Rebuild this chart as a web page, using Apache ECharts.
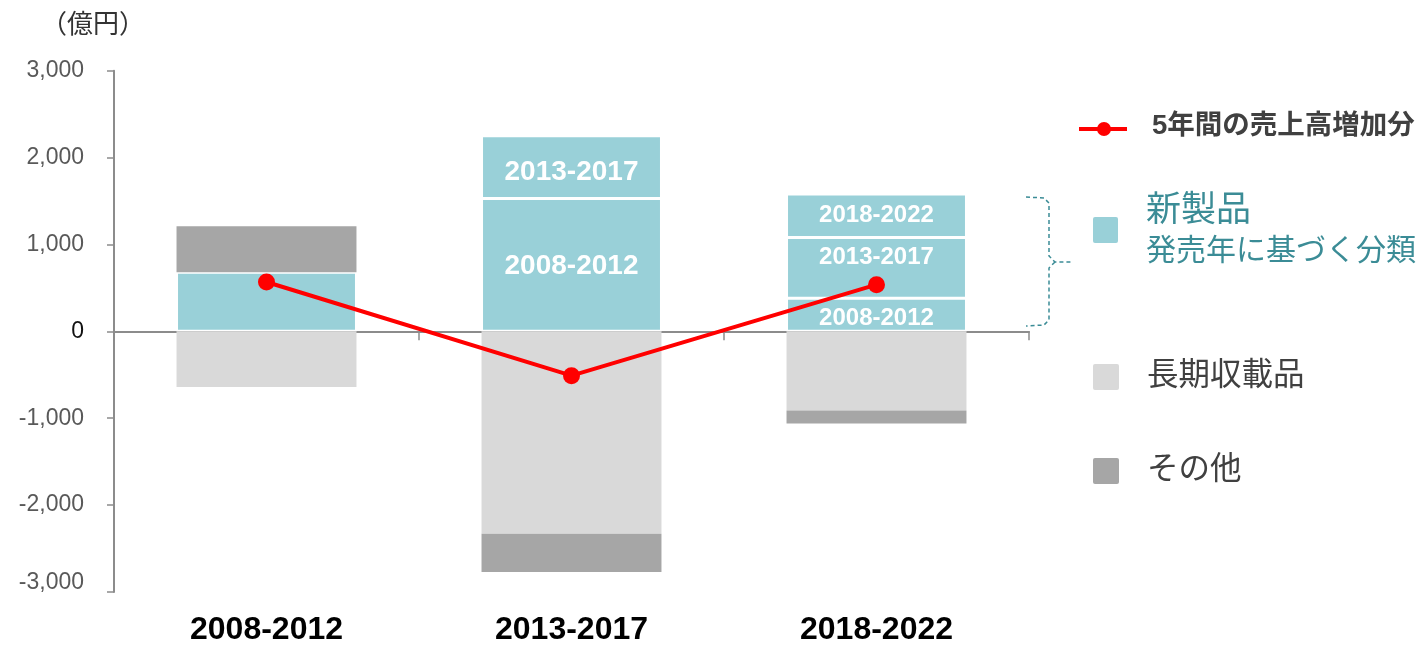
<!DOCTYPE html>
<html>
<head>
<meta charset="utf-8">
<script src="https://cdn.jsdelivr.net/npm/echarts@6/dist/echarts.min.js"></script>
<style>
	html, body { margin: 0; padding: 0; background: #fff; }
	#chart { width: 1423px; height: 646px; }
</style>
</head>
<body>
<div id="chart"></div>
<script>
// 期間（x軸）
var categories = ['2008-2012', '2013-2017', '2018-2022'];
// 新製品（発売年に基づく分類）
var cohort0812 = [680, 1530, 380];
var cohort1317 = [null, 720, 700];
var cohort1822 = [null, null, 500];
// 長期収載品・その他
var longTerm = [-640, -2330, -910];
var others = [530, -440, -150];
// 5年間の売上高増加分
var netIncrease = [568, -510, 537];
// y軸
var yTicks = [-3000, -2000, -1000, 0, 1000, 2000, 3000];

var FONT = "'Liberation Sans', Arial, 'Noto Sans CJK JP', sans-serif";
var TEAL = '#99d0d8';
var TEAL_TEXT = '#3b8c96';

// label size per bar (bar 1 has no labels)
var labelSize = [0, 28, 24];

function teal(values, name, topAlignIdx, offsets) {
	return {
		name: name,
		type: 'bar',
		stack: 'total',
		barWidth: '59%',
		itemStyle: { color: TEAL, borderColor: '#fff', borderWidth: 1.5 },
		data: values.map(function (v, i) {
			if (v === null) return null;
			return {
				value: v,
				label: {
					show: labelSize[i] > 0,
					formatter: name,
					position: i === topAlignIdx ? 'insideTop' : 'inside',
					distance: 8,
					offset: offsets ? offsets[i] : [0, 0],
					color: '#fff',
					fontWeight: 'bold',
					fontFamily: FONT,
					fontSize: labelSize[i] || 12
				}
			};
		})
	};
}

var chart = echarts.init(document.getElementById('chart'));

chart.setOption({
	animation: false,
	title: {
		text: '（億円）',
		left: 36,
		top: 8,
		textStyle: { fontSize: 26, fontWeight: 'normal', color: '#333', fontFamily: FONT }
	},
	grid: { left: 114, right: 394, top: 70.7, bottom: 53.3, containLabel: false },
	xAxis: [{
		type: 'category',
		data: categories,
		axisLine: { onZero: true, lineStyle: { color: '#8c8c8c', width: 2 } },
		axisTick: { show: true, length: 9, lineStyle: { color: '#8c8c8c', width: 1.5 } },
		axisLabel: { show: false }
	}, {
		type: 'category',
		data: categories,
		position: 'bottom',
		axisLine: { show: false },
		axisTick: { show: false },
		axisLabel: { margin: 22, fontSize: 32, fontWeight: 'bold', color: '#000', fontFamily: FONT }
	}],
	yAxis: {
		type: 'value',
		min: yTicks[0],
		max: yTicks[yTicks.length - 1],
		interval: 1000,
		splitLine: { show: false },
		axisLine: { show: true, lineStyle: { color: '#8c8c8c', width: 2 } },
		axisTick: { show: true, length: 7, lineStyle: { color: '#8c8c8c', width: 1.5 } },
		axisLabel: {
			margin: 30,
			fontSize: 23,
			color: '#595959',
			fontFamily: FONT,
			formatter: function (v) {
				if (v === 0) return '{z|0}';
				if (v === -3000) return '{b|' + v.toLocaleString('en-US') + '}';
				return v.toLocaleString('en-US');
			},
			rich: {
				z: { fontSize: 23, color: '#111', fontFamily: FONT },
				b: { fontSize: 23, color: '#595959', fontFamily: FONT, padding: [0, 0, 18, 0] }
			}
		}
	},
	series: [
		teal(cohort0812, '2008-2012', -1, [[0, 0], [0, 1], [0, 4]]),
		teal(cohort1317, '2013-2017', 2, [[0, 0], [0, 5], [0, 0]]),
		teal(cohort1822, '2018-2022', -1),
		{
			name: '長期収載品',
			type: 'bar',
			stack: 'total',
			barWidth: '59%',
			itemStyle: { color: '#d9d9d9' },
			data: longTerm
		},
		{
			name: 'その他',
			type: 'bar',
			stack: 'total',
			barWidth: '59%',
			itemStyle: { color: '#a6a6a6' },
			data: others
		},
		{
			name: '5年間の売上高増加分',
			type: 'line',
			z: 5,
			symbol: 'circle',
			symbolSize: 17,
			lineStyle: { color: '#ff0000', width: 4 },
			itemStyle: { color: '#ff0000' },
			data: netIncrease
		}
	],
	graphic: [
		// legend: line
		{ type: 'line', shape: { x1: 1079, y1: 129, x2: 1127, y2: 129 }, style: { stroke: '#ff0000', lineWidth: 4 } },
		{ type: 'circle', shape: { cx: 1104, cy: 129, r: 7 }, style: { fill: '#ff0000' } },
		{ type: 'text', left: 1152, top: 113, style: { text: '5年間の売上高増加分', fontSize: 27.5, fontWeight: 'bold', fill: '#404040', fontFamily: FONT } },
		// legend: new products
		{ type: 'rect', shape: { x: 1093, y: 217, width: 25, height: 26, r: 2 }, style: { fill: TEAL } },
		{ type: 'text', left: 1146, top: 194, style: { text: '新製品', fontSize: 35, fill: TEAL_TEXT, fontFamily: FONT } },
		{ type: 'text', left: 1146, top: 237, style: { text: '発売年に基づく分類', fontSize: 30, fill: TEAL_TEXT, fontFamily: FONT } },
		// legend: long-term
		{ type: 'rect', shape: { x: 1093, y: 364, width: 26, height: 26, r: 2 }, style: { fill: '#d9d9d9' } },
		{ type: 'text', left: 1147, top: 361, style: { text: '長期収載品', fontSize: 31.5, fill: '#404040', fontFamily: FONT } },
		// legend: other
		{ type: 'rect', shape: { x: 1093, y: 458, width: 26, height: 26, r: 2 }, style: { fill: '#a6a6a6' } },
		{ type: 'text', left: 1147, top: 455, style: { text: 'その他', fontSize: 31.5, fill: '#404040', fontFamily: FONT } },
		// bracket
		{ type: 'polyline', shape: { points: [[1026, 197], [1044, 198], [1049, 203], [1049, 256], [1055, 262], [1073, 262]] },
			style: { stroke: TEAL_TEXT, lineWidth: 1.5, lineDash: [4, 3], fill: null } },
		{ type: 'polyline', shape: { points: [[1055, 262], [1049, 268], [1049, 320], [1044, 325], [1026, 326]] },
			style: { stroke: TEAL_TEXT, lineWidth: 1.5, lineDash: [4, 3], fill: null } }
	]
});
</script>
</body>
</html>
